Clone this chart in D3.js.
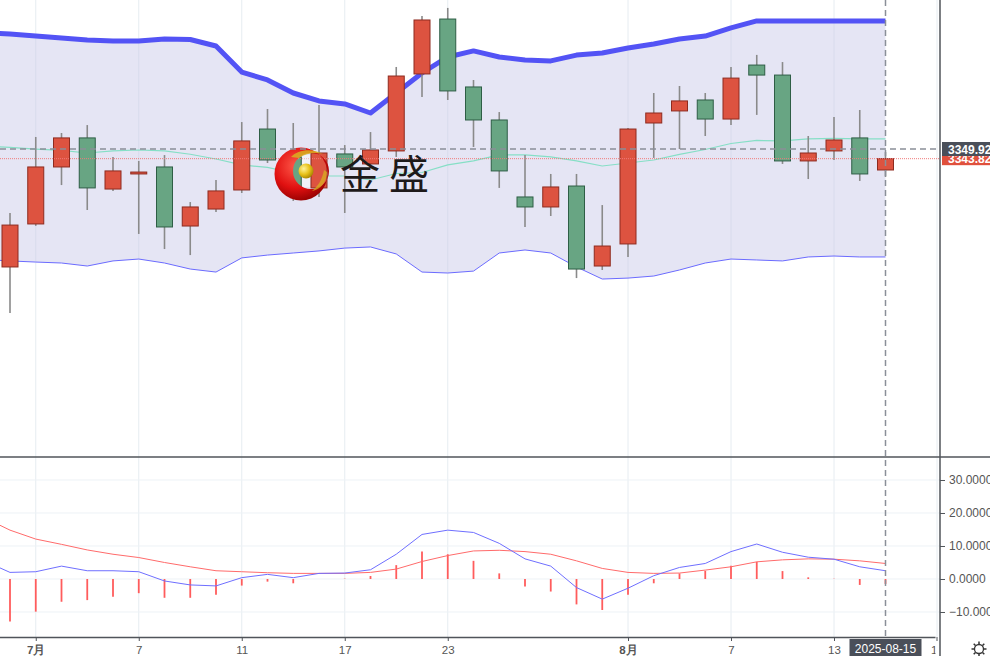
<!DOCTYPE html>
<html><head><meta charset="utf-8">
<script src="https://cdn.jsdelivr.net/npm/d3@7"></script>
<style>html,body{margin:0;padding:0;background:#fff;overflow:hidden}svg{display:block}</style>
</head><body><svg id="c" width="990" height="656"></svg>
<script>
// ---------- DATA ----------
const dates = ["2025-06-30","2025-07-01","2025-07-02","2025-07-03","2025-07-04","2025-07-07","2025-07-08","2025-07-09","2025-07-10","2025-07-11",
  "2025-07-14","2025-07-15","2025-07-16","2025-07-17","2025-07-18","2025-07-21","2025-07-22","2025-07-23","2025-07-24","2025-07-25",
  "2025-07-28","2025-07-29","2025-07-30","2025-07-31","2025-08-01","2025-08-04","2025-08-05","2025-08-06","2025-08-07","2025-08-08",
  "2025-08-11","2025-08-12","2025-08-13","2025-08-14","2025-08-15"];
const leadDate = "2025-06-27";
const futureDates = ["2025-08-18","2025-08-19"];

const open  = [3275.6,3302.7,3338.6,3356.9,3324.7,3334.2,3338.6,3301.4,3312.1,3324.1,3362.5,3344.9,3325.4,3346.8,3340.5,3348.7,3397.2,3431.8,3389.0,3368.2,3319.7,3313.4,3326.6,3276.2,3290.1,3366.3,3373.9,3380.8,3368.8,3402.8,3396.5,3342.4,3348.7,3356.9,3336.7];
const high  = [3309.6,3357.5,3360.0,3365.0,3344.9,3342.4,3346.1,3316.5,3330.4,3366.9,3375.1,3366.3,3377.6,3352.4,3360.6,3401.6,3433.7,3438.8,3393.4,3373.2,3346.1,3334.2,3334.2,3314.6,3363.2,3385.2,3389.6,3385.2,3401.6,3409.2,3404.7,3358.1,3370.1,3374.5,3348.0];
const low   = [3246.6,3301.5,3327.2,3311.5,3323.5,3296.4,3286.9,3283.1,3310.2,3322.2,3341.1,3317.2,3319.7,3309.6,3339.8,3344.9,3382.7,3380.8,3351.2,3325.4,3300.8,3307.7,3268.6,3273.7,3281.9,3344.3,3349.9,3358.1,3365.0,3371.4,3340.5,3331.0,3343.0,3329.8,3332.3];
const close = [3302.0,3338.6,3356.9,3325.4,3336.1,3335.4,3300.8,3313.4,3323.5,3355.0,3343.0,3324.7,3347.4,3338.6,3349.3,3395.9,3431.2,3386.5,3368.2,3336.1,3313.4,3326.0,3274.3,3288.8,3362.5,3372.6,3380.2,3368.8,3394.6,3396.5,3342.4,3347.4,3355.6,3334.2,3343.82];

// indicator series start one bar earlier (leadDate)
const bollUpper = [3423.3,3422.4,3421.1,3419.9,3418.6,3418.0,3418.0,3419.2,3418.9,3414.8,3398.4,3393.4,3385.2,3380.2,3378.3,3372.6,3385.2,3397.8,3407.9,3411.7,3407.9,3406.0,3405.4,3409.1,3410.4,3413.5,3416.1,3419.2,3421.1,3426.2,3430.6,3430.6,3430.6,3430.6,3430.6,3430.6];
const bollMid   = [3351.8,3350.9,3349.9,3349.0,3347.4,3348.7,3349.3,3348.7,3346.6,3343.6,3339.9,3338.3,3334.8,3333.0,3332.9,3330.4,3334.5,3335.1,3339.9,3342.4,3346.2,3346.2,3344.9,3342.4,3339.2,3341.1,3343.0,3346.5,3349.6,3353.4,3355.3,3355.0,3356.3,3356.6,3356.3,3356.3];
const bollLower = [3280.3,3279.4,3278.7,3278.1,3276.2,3279.4,3280.6,3278.1,3274.3,3272.4,3281.3,3283.1,3284.4,3285.7,3287.5,3288.2,3283.8,3272.4,3271.8,3273.0,3284.4,3286.3,3284.4,3275.6,3268.0,3268.6,3269.9,3273.7,3278.1,3280.6,3280.0,3279.4,3281.9,3282.5,3281.9,3281.9];

const macdDif  = [5.5,2.0,2.2,3.9,2.5,2.5,2.2,-0.6,-1.8,-2.1,0.4,1.4,0.4,1.7,1.8,2.8,7.5,13.5,14.8,14.1,10.8,6.1,3.9,-2.6,-6.1,-2.8,1.0,3.5,4.7,8.3,10.6,8.1,6.6,6.0,3.7,2.5];
const macdDea  = [18.6,14.8,12.1,10.5,8.8,7.5,6.5,5.0,3.7,2.5,2.2,1.9,1.7,1.7,1.7,2.0,3.0,5.3,7.1,8.5,8.7,8.3,7.5,5.5,3.2,2.0,1.7,1.8,2.7,3.7,5.2,5.8,6.1,6.0,5.5,4.7];
const macdHist = [-13.1,-12.9,-9.9,-6.9,-6.4,-5.4,-4.3,-5.7,-5.7,-4.8,-2.0,-0.8,-1.3,0.0,0.1,0.9,4.2,8.3,7.5,5.5,1.7,-2.3,-3.8,-7.7,-9.4,-4.8,-1.3,1.7,2.5,4.0,5.2,2.4,0.5,0.1,-1.8,-1.5];

const tickDates  = ["2025-07-01","2025-07-07","2025-07-11","2025-07-17","2025-07-23","2025-08-01","2025-08-07","2025-08-13","2025-08-19"];
const tickLabels = ["7月","7","11","17","23","8月","7","13","19"];
const macdTicks = [-10,0,10,20,30];
const crossPrice = 3349.92;
const lastPrice = 3343.82;
const crossDate = "2025-08-15";

// ---------- SETUP ----------
const svg = d3.select("#c");
const W = 990, H = 656, PR = 940, MAIN_B = 456, M_T = 457, M_B = 637;
const FONT = "'Liberation Sans', Arial, sans-serif";
const seriesDates = [leadDate].concat(dates);
const allDates = seriesDates.concat(futureDates);
const x = d3.scalePoint().domain(allDates).range([-15.75, -15.75 + 25.75 * (allDates.length - 1)]);
const y = d3.scaleLinear().domain([3157.14, 3443.79]).range([455, 0]);
const ym = d3.scaleLinear().domain([-17.58, 36.97]).range([M_B, M_T]);

const defs = svg.append("defs");
defs.append("clipPath").attr("id","clipMain").append("rect").attr("x",0).attr("y",0).attr("width",PR).attr("height",MAIN_B);
defs.append("clipPath").attr("id","clipMacd").append("rect").attr("x",0).attr("y",M_T).attr("width",PR).attr("height",M_B-M_T);
defs.append("clipPath").attr("id","clipAxisLocal").append("rect").attr("x",0).attr("y",-2).attr("width",PR-4.5).attr("height",30);

// ---------- GRID ----------
const grid = svg.append("g");
grid.selectAll("line.v").data(tickDates).join("line")
  .attr("x1", d => x(d)).attr("x2", d => x(d)).attr("y1", 0).attr("y2", M_B)
  .attr("stroke", "#e6ecf1").attr("stroke-width", 1);
grid.selectAll("line.h").data(macdTicks).join("line")
  .attr("x1", 0).attr("x2", PR).attr("y1", d => ym(d)).attr("y2", d => ym(d))
  .attr("stroke", "#edf2f6").attr("stroke-width", 1);

// ---------- MAIN PANEL ----------
const main = svg.append("g").attr("clip-path","url(#clipMain)");
const band = seriesDates.map((d,i) => ({d, u: bollUpper[i], m: bollMid[i], l: bollLower[i]}));
main.append("path").datum(band)
  .attr("d", d3.area().x(p => x(p.d)).y0(p => y(p.l)).y1(p => y(p.u)))
  .attr("fill", "rgba(200,200,232,0.48)");
main.append("path").datum(band)
  .attr("d", d3.line().x(p => x(p.d)).y(p => y(p.m)))
  .attr("fill","none").attr("stroke","#86dfc6").attr("stroke-width",1.2);
main.append("path").datum(band)
  .attr("d", d3.line().x(p => x(p.d)).y(p => y(p.l)))
  .attr("fill","none").attr("stroke","#6b6bff").attr("stroke-width",1);
main.append("path").datum(band)
  .attr("d", d3.line().x(p => x(p.d)).y(p => y(p.u)))
  .attr("fill","none").attr("stroke","#5353f5").attr("stroke-width",5).attr("stroke-linejoin","round");

// last price dotted line
svg.append("line").attr("x1",0).attr("x2",PR).attr("y1",y(lastPrice)).attr("y2",y(lastPrice))
  .attr("stroke","#f07a7a").attr("stroke-width",1).attr("stroke-dasharray","1,1");

// candles
const candles = dates.map((d,i) => ({d, o: open[i], h: high[i], l: low[i], c: close[i]}));
const cg = main.append("g");
const BW = 16;
cg.selectAll("line.w").data(candles).join("line")
  .attr("x1", c => x(c.d)).attr("x2", c => x(c.d))
  .attr("y1", c => y(c.h)).attr("y2", c => y(c.l))
  .attr("stroke", "#8a8a8a").attr("stroke-width", 1.6);
cg.selectAll("rect").data(candles).join("rect")
  .attr("x", c => x(c.d) - BW/2).attr("width", BW)
  .attr("y", c => y(Math.max(c.o, c.c)))
  .attr("height", c => Math.max(1.5, Math.abs(y(c.o) - y(c.c))))
  .attr("fill", c => c.c >= c.o ? "#dd5340" : "#68a583")
  .attr("stroke", c => c.c >= c.o ? "#8e2b1f" : "#2e5e45").attr("stroke-width", 1);

// ---------- LOGO WATERMARK ----------
const rg = defs.append("radialGradient").attr("id","redG").attr("cx","40%").attr("cy","35%").attr("r","70%");
rg.append("stop").attr("offset","0%").attr("stop-color","#ff5a4a");
rg.append("stop").attr("offset","60%").attr("stop-color","#e01010");
rg.append("stop").attr("offset","100%").attr("stop-color","#8e0000");
const yg = defs.append("radialGradient").attr("id","yelG").attr("cx","35%").attr("cy","35%").attr("r","70%");
yg.append("stop").attr("offset","0%").attr("stop-color","#fff39a");
yg.append("stop").attr("offset","55%").attr("stop-color","#e8c21a");
yg.append("stop").attr("offset","100%").attr("stop-color","#a88300");
const logo = svg.append("g");
logo.append("rect").attr("x",302).attr("y",155).attr("width",8).attr("height",32).attr("fill","rgba(255,255,255,0.45)");
const crescent = d3.path();
crescent.arc(301, 174, 26.5, 0, Math.PI*2); crescent.closePath();
crescent.moveTo(311+18, 171); crescent.arc(311, 171, 18, 0, Math.PI*2); crescent.closePath();
logo.append("path").attr("d", crescent.toString()).attr("fill","url(#redG)").attr("fill-rule","evenodd");
logo.append("path").attr("d","M291,157 C298,149 313,148 323,154 C316,152 306,153 299,158 Z").attr("fill","#d8b020").attr("opacity",0.85);
logo.append("path").attr("d","M327,172 C327,182 320,190 312,191 C318,186 322,180 324,170 Z").attr("fill","#d8b020").attr("opacity",0.75);
logo.append("circle").attr("cx",306).attr("cy",171).attr("r",7.5).attr("fill","url(#yelG)");
svg.append("text").attr("x",340).attr("y",189).text("金 盛")
  .attr("font-family","'Noto Sans CJK SC', sans-serif").attr("font-size",40).attr("fill","#1e1a1a");

// ---------- MACD PANEL ----------
const macd = svg.append("g").attr("clip-path","url(#clipMacd)");
const mData = seriesDates.map((d,i) => ({d, dif: macdDif[i], dea: macdDea[i], h: macdHist[i]}));
macd.selectAll("line.hist").data(mData).join("line")
  .attr("x1", p => x(p.d)).attr("x2", p => x(p.d))
  .attr("y1", ym(0)).attr("y2", p => ym(p.h))
  .attr("stroke", "#ff5c5c").attr("stroke-width", 1.8);
macd.append("path").datum(mData).attr("d", d3.line().x(p => x(p.d)).y(p => ym(p.dea)))
  .attr("fill","none").attr("stroke","#ff6b6b").attr("stroke-width",1);
macd.append("path").datum(mData).attr("d", d3.line().x(p => x(p.d)).y(p => ym(p.dif)))
  .attr("fill","none").attr("stroke","#6f6fff").attr("stroke-width",1);

// ---------- CROSSHAIR ----------
svg.append("line").attr("x1",0).attr("x2",PR).attr("y1",y(crossPrice)).attr("y2",y(crossPrice))
  .attr("stroke","#8a8f98").attr("stroke-width",1.5).attr("stroke-dasharray","6,4");
svg.append("line").attr("x1",x(crossDate)).attr("x2",x(crossDate)).attr("y1",0).attr("y2",M_B+2)
  .attr("stroke","#8a8f98").attr("stroke-width",1.5).attr("stroke-dasharray","6,4");

// ---------- FRAME / AXES ----------
svg.append("line").attr("x1",0).attr("x2",W).attr("y1",M_T).attr("y2",M_T).attr("stroke","#50545a").attr("stroke-width",1.5);
svg.append("line").attr("x1",PR).attr("x2",PR).attr("y1",0).attr("y2",H).attr("stroke","#50545a").attr("stroke-width",1.5);

// bottom time axis
const xAxis = d3.axisBottom(x).tickValues(tickDates).tickSize(4).tickPadding(5)
  .tickFormat(d => tickLabels[tickDates.indexOf(d)]);
const xg = svg.append("g").attr("transform",`translate(0,${M_B})`).attr("clip-path","url(#clipAxisLocal)").call(xAxis);
xg.select(".domain").attr("stroke","#50545a").attr("stroke-width",1.5);
xg.selectAll(".tick line").attr("stroke","#50545a");
xg.selectAll(".tick text").attr("font-family",FONT).attr("font-size",11.5).attr("fill","#555")
  .attr("font-weight", (d) => tickLabels[tickDates.indexOf(d)].includes("月") ? "bold" : "normal");
svg.append("line").attr("x1",x("2025-08-19")).attr("x2",x("2025-08-19")).attr("y1",M_B).attr("y2",M_B+4).attr("stroke","#50545a");

// MACD right axis
const yAxis = d3.axisRight(ym).tickValues(macdTicks).tickSize(5).tickPadding(4).tickFormat(d3.format(".4f"));
const yg2 = svg.append("g").attr("transform",`translate(${PR},0)`).call(yAxis);
yg2.select(".domain").remove();
yg2.selectAll(".tick line").attr("stroke","#50545a");
yg2.selectAll(".tick text").attr("font-family",FONT).attr("font-size",12).attr("fill","#555");

// price labels
const lp = y(lastPrice), cp = y(crossPrice);
svg.append("rect").attr("x",PR+2).attr("y",lp-6.5).attr("width",W-PR-2).attr("height",13).attr("fill","#e0503c");
svg.append("text").attr("x",PR+8).attr("y",lp+4).text(lastPrice.toFixed(2))
  .attr("font-family",FONT).attr("font-size",12).attr("font-weight","bold").attr("fill","#fff");
svg.append("rect").attr("x",PR+2).attr("y",cp-7).attr("width",W-PR-2).attr("height",14).attr("fill","#4a4f59");
svg.append("text").attr("x",PR+8).attr("y",cp+4.5).text(crossPrice.toFixed(2))
  .attr("font-family",FONT).attr("font-size",12).attr("font-weight","bold").attr("fill","#fff");

// date label
const cx = x(crossDate);
svg.append("rect").attr("x",cx-36).attr("y",M_B+2).attr("width",72).attr("height",H-M_B-2).attr("fill","#4a4f59");
svg.append("text").attr("x",cx).attr("y",M_B+15.5).attr("text-anchor","middle").text(crossDate)
  .attr("font-family",FONT).attr("font-size",12).attr("fill","#fff");

// settings icon
const gear = svg.append("g").attr("transform","translate(979,649)");
gear.append("circle").attr("r",4.5).attr("fill","none").attr("stroke","#333").attr("stroke-width",1.3);
d3.range(8).forEach(k => {
  const a = k * Math.PI / 4;
  gear.append("line").attr("x1",Math.cos(a)*5).attr("y1",Math.sin(a)*5).attr("x2",Math.cos(a)*7.5).attr("y2",Math.sin(a)*7.5)
    .attr("stroke","#333").attr("stroke-width",1.5);
});
</script></body></html>
